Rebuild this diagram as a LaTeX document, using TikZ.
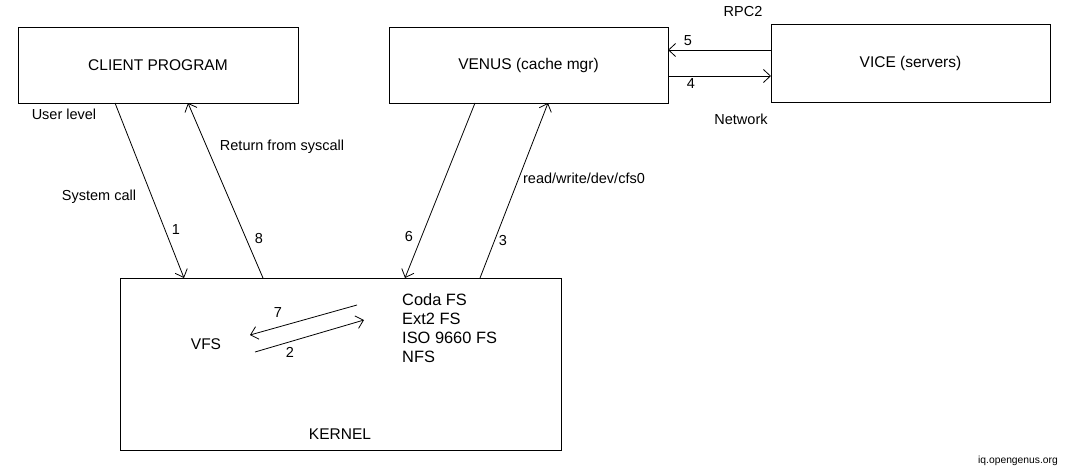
\documentclass[tikz,border=0pt]{standalone}
\usepackage{fontspec}
\setmainfont{Liberation Sans}
\usetikzlibrary{arrows.meta}
\begin{document}
\begin{tikzpicture}[x=1pt,y=-1pt,
  box/.style={draw,line width=1pt,rectangle,inner sep=0pt,font=\fontsize{15.5}{18}\selectfont},
  lbl/.style={inner sep=0pt,font=\fontsize{14.5}{17}\selectfont},
  fslist/.style={inner sep=0pt,align=left,anchor=north west,font=\fontsize{16.4}{19}\selectfont},
  conn/.style={line width=0.8pt,-{Straight Barb[length=7pt,width=13pt,line width=0.8pt]}}]
\useasboundingbox (0,0) rectangle (1070,474);
\fill[white] (0,0) rectangle (1070,474);
% boxes
\node[box,minimum width=280pt,minimum height=76pt] (client) at (158,65) {CLIENT PROGRAM};
\node[box,minimum width=279pt,minimum height=76pt] (venus) at (528.5,65) {VENUS (cache mgr)};
\node[box,minimum width=279pt,minimum height=78pt] (vice) at (910.5,63) {VICE (servers)};
\node[draw,line width=1pt,inner sep=0pt,minimum width=441pt,minimum height=172pt] (kernel) at (340.5,364) {};
% texts
\node[lbl] (rpc) at (743,12) {RPC2};
\node[lbl] (n5) at (688,41) {5};
\node[lbl] (n4) at (691,84) {4};
\node[lbl] (net) at (741,119) {Network};
\node[lbl] (ulev) at (64,114) {User level};
\node[lbl] (ret) at (282,147) {Return from syscall};
\node[lbl] (sys) at (99,197) {System call};
\node[lbl] (n1) at (176,230) {1};
\node[lbl] (n8) at (259,239) {8};
\node[lbl] (n6) at (409,237) {6};
\node[lbl] (n3) at (503,241) {3};
\node[lbl] (rw) at (584,178) {read/write/dev/cfs0};
\node[lbl,font=\fontsize{15.5}{18}\selectfont] (vfs) at (206,344) {VFS};
\node[lbl] (n7) at (278,313) {7};
\node[lbl] (n2) at (290,352) {2};
\node[fslist] (fs) at (402,293) {Coda FS\\Ext2 FS\\ISO 9660 FS\\NFS};
\node[lbl,font=\fontsize{15.5}{18}\selectfont] (kl) at (340,434) {KERNEL};
\node[lbl,font=\fontsize{10.3}{12}\selectfont] (src) at (1018,461) {iq.opengenus.org};
% connector end points
\coordinate (a1s) at (115,103);
\coordinate (a1e) at (184,278);
\coordinate (a8s) at (263,278);
\coordinate (a8e) at (188,103);
\coordinate (a6s) at (475,103);
\coordinate (a6e) at (405,278);
\coordinate (a3s) at (480,278);
\coordinate (a3e) at (548,103);
\coordinate (a5s) at (771,50);
\coordinate (a5e) at (668,50);
\coordinate (a4s) at (668,76);
\coordinate (a4e) at (771,76);
\coordinate (a7s) at (357,305);
\coordinate (a7e) at (250,335);
\coordinate (a2s) at (255,352);
\coordinate (a2e) at (364,320);
% connectors
\draw[conn] (a1s) -- (a1e);
\draw[conn] (a8s) -- (a8e);
\draw[conn] (a6s) -- (a6e);
\draw[conn] (a3s) -- (a3e);
\draw[conn] (a5s) -- (a5e);
\draw[conn] (a4s) -- (a4e);
\draw[conn] (a7s) -- (a7e);
\draw[conn] (a2s) -- (a2e);
\end{tikzpicture}
\end{document}
